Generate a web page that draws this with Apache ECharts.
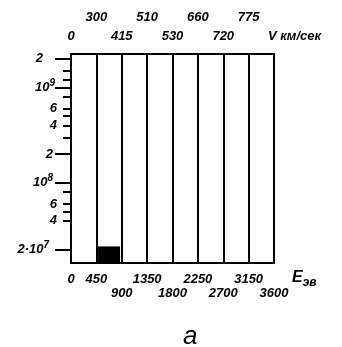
<!DOCTYPE html>
<html>
<head>
<meta charset="utf-8">
<script src="https://cdn.jsdelivr.net/npm/echarts@6/dist/echarts.min.js"></script>
<style>
html, body { margin: 0; padding: 0; background: #fff; }
#chart { width: 342px; height: 347px; }
</style>
</head>
<body>
<div id="chart"></div>
<script>
// энергия, эВ (границы интервалов)
var energyEdges = [0, 450, 900, 1350, 1800, 2250, 2700, 3150, 3600];
// скорость, км/сек, подписи сверху (для тех же границ)
var velocityLabels = ['0', '300', '415', '510', '530', '660', '720', '775'];
// центры интервалов и значения гистограммы
var binCenters = [225, 675, 1125, 1575, 2025, 2475, 2925, 3375];
var binCounts = ['-', 2.15e7, '-', '-', '-', '-', '-', '-'];
// шкала Y
var labelTicks = [2e7, 4e7, 6e7, 1e8, 2e8, 4e8, 6e8, 1e9, 2e9];
var labelTexts = ['2·10{s|7}', '4', '6', '10{s|8}', '2', '4', '6', '10{s|9}', '2'];
var labelGaps = [8, 0, 0, 4, 4, 0, 0, 2, 14];
var minorTicks = [2e7, 4e7, 5e7, 6e7, 8e7, 1e8, 2e8, 3e8, 4e8, 5e8, 6e8, 8e8, 1e9, 1.2e9, 1.5e9, 2e9];
var longTicks = [2e7, 1e8, 2e8, 1e9, 2e9];
// подписи по рядам
var eRow1 = [0, 450, 1350, 2250, 3150];
var eRow2 = [900, 1800, 2700, 3600];
var vRowLow = [0, 900, 1800, 2700];
var vRowHigh = [450, 1350, 2250, 3150];

var FONT = "'Liberation Sans', Arial, sans-serif";

var myChart = echarts.init(document.getElementById('chart'));

var seriesData = [];
for (var i = 0; i < binCenters.length; i++) {
    seriesData.push([binCenters[i], binCounts[i]]);
}

function plain(v) {
    return String(v);
}
function velocityOf(e) {
    var k = energyEdges.indexOf(e);
    return k < 0 || k >= velocityLabels.length ? '' : velocityLabels[k];
}

var labelFont = {fontFamily: FONT, fontStyle: 'italic', fontWeight: 'bold', fontSize: 13, color: '#000'};

// пустая вспомогательная ось X (только подписи)
function labelAxis(position, values, margin, formatter) {
    return {
        type: 'value', position: position,
        min: 0, max: 3600, interval: 450,
        axisLine: {show: false},
        axisTick: {show: false},
        splitLine: {show: false},
        axisLabel: echarts.util.extend({
            margin: margin,
            customValues: values,
            hideOverlap: false,
            verticalAlign: position == 'top' ? 'bottom' : 'top',
            formatter: formatter
        }, labelFont)
    };
}

var xTop1 = labelAxis('top', vRowLow, 11, velocityOf);
xTop1.name = 'V км/сек';
xTop1.nameLocation = 'end';
xTop1.nameGap = -6;
xTop1.nameTextStyle = echarts.util.extend({align: 'left', verticalAlign: 'bottom', padding: [0, 0, 11, 0]}, labelFont);

option = {
    backgroundColor: '#fff',
    animation: false,
    title: {
        text: 'а',
        left: 178,
        top: 319,
        textStyle: {fontFamily: FONT, fontStyle: 'italic', fontWeight: 'normal', fontSize: 26, color: '#000'}
    },
    grid: {
        left: 71, right: 68, top: 54, bottom: 84,
        show: true, borderColor: '#000', borderWidth: 2, backgroundColor: 'transparent'
    },
    xAxis: [
        {
            type: 'value', position: 'bottom',
            min: 0, max: 3600, interval: 450,
            axisLine: {show: true, lineStyle: {color: '#000', width: 2}},
            axisTick: {show: false},
            splitLine: {show: true, lineStyle: {color: '#000', width: 2}},
            axisLabel: echarts.util.extend({
                margin: 10,
                customValues: eRow1,
                hideOverlap: false,
                verticalAlign: 'top',
                formatter: plain
            }, labelFont),
            name: '{e|E}{s|эв}',
            nameLocation: 'end',
            nameGap: 18,
            nameTextStyle: {
                verticalAlign: 'top', align: 'left', padding: [4, 0, 0, 0],
                rich: {
                    e: {fontFamily: FONT, fontStyle: 'italic', fontWeight: 'bold', fontSize: 16, color: '#000'},
                    s: {fontFamily: FONT, fontStyle: 'italic', fontWeight: 'bold', fontSize: 12, color: '#000', padding: [10, 0, 0, 0]}
                }
            }
        },
        labelAxis('bottom', eRow2, 24, plain),
        xTop1,
        labelAxis('top', vRowHigh, 30, velocityOf)
    ],
    yAxis: [
        {
            type: 'log', min: 1.44e7, max: 2.25e9,
            axisLine: {show: true, lineStyle: {color: '#000', width: 2}},
            axisTick: {show: true, length: 8, customValues: minorTicks, lineStyle: {color: '#000', width: 2}},
            splitLine: {show: false},
            axisLabel: {
                margin: 14,
                customValues: labelTicks,
                fontFamily: FONT, fontStyle: 'italic', fontWeight: 'bold', fontSize: 13, color: '#000',
                formatter: function (v) {
                    var k = -1;
                    for (var j = 0; j < labelTicks.length; j++) {
                        if (Math.abs(labelTicks[j] - v) / labelTicks[j] < 1e-6) k = j;
                    }
                    if (k < 0) return '';
                    return labelTexts[k] + (labelGaps[k] ? '{g' + labelGaps[k] + '|}' : '');
                },
                rich: {
                    s: {fontFamily: FONT, fontStyle: 'italic', fontWeight: 'bold', fontSize: 10, color: '#000', padding: [0, 0, 9, 0]},
                    g2: {width: 2}, g4: {width: 4}, g8: {width: 8}, g14: {width: 14}
                }
            }
        },
        {
            type: 'log', min: 1.44e7, max: 2.25e9, position: 'left',
            axisLine: {show: false},
            axisTick: {show: true, length: 16, customValues: longTicks, lineStyle: {color: '#000', width: 2}},
            axisLabel: {show: false},
            splitLine: {show: false}
        }
    ],
    series: [
        {
            type: 'bar',
            xAxisIndex: 0,
            yAxisIndex: 0,
            barWidth: 22,
            data: seriesData,
            itemStyle: {color: '#000'}
        }
    ]
};

myChart.setOption(option);
window.addEventListener('resize', function () {
    myChart.resize();
});
</script>
</body>
</html>
